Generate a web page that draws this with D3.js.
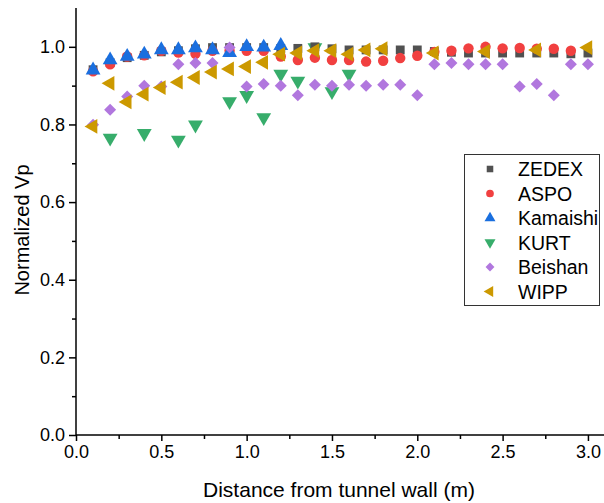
<!DOCTYPE html>
<html><head><meta charset="utf-8">
<script src="https://cdn.jsdelivr.net/npm/d3@7"></script>
<style>body{margin:0;background:#fff}svg{display:block}text{font-family:"Liberation Sans",Arial,sans-serif;fill:#000}</style>
</head><body><svg id="c" width="604" height="503"></svg>
<script>
const xTicks = [0.0, 0.5, 1.0, 1.5, 2.0, 2.5, 3.0];
const yTicks = [0.0, 0.2, 0.4, 0.6, 0.8, 1.0];
const seriesNames = ["ZEDEX", "ASPO", "Kamaishi", "KURT", "Beishan", "WIPP"];

const zedexX = [0.1,0.2,0.3,0.4,0.5,0.6,0.7,0.8,0.9,1.0,1.1,1.2,1.3,1.4,1.5,1.6,1.7,1.8,1.9,2.0,2.1,2.2,2.3,2.4,2.5,2.6,2.7,2.8,2.9,3.0];
const zedexY = [0.941,0.959,0.972,0.978,0.987,0.99,0.995,0.998,0.998,0.998,0.998,0.996,0.996,1.0,0.995,0.992,0.992,0.992,0.992,0.992,0.988,0.986,0.984,0.984,0.984,0.984,0.984,0.984,0.982,0.984];

const aspoX = [0.1,0.2,0.3,0.4,0.5,0.6,0.7,0.8,0.9,1.0,1.1,1.2,1.3,1.4,1.5,1.6,1.7,1.8,1.9,2.0,2.1,2.2,2.3,2.4,2.5,2.6,2.7,2.8,2.9];
const aspoY = [0.937,0.955,0.975,0.978,0.99,0.985,0.982,0.99,0.99,0.99,0.99,0.975,0.966,0.972,0.966,0.966,0.962,0.964,0.971,0.977,0.987,0.99,0.996,1.0,0.996,0.997,0.995,0.995,0.99];

const kamaishiX = [0.1,0.2,0.3,0.4,0.5,0.6,0.7,0.8,0.9,1.0,1.1,1.2];
const kamaishiY = [0.94,0.966,0.975,0.981,0.992,0.992,0.997,0.992,0.985,1.0,0.999,1.003];

const kurtX = [0.2,0.4,0.6,0.7,0.9,1.0,1.1,1.2,1.3,1.4,1.5,1.6];
const kurtY = [0.765,0.777,0.76,0.799,0.859,0.875,0.818,0.93,0.912,0.998,0.885,0.93];

const beishanX = [0.1,0.2,0.3,0.4,0.5,0.6,0.7,0.8,0.9,1.0,1.1,1.2,1.3,1.4,1.5,1.6,1.7,1.8,1.9,2.0,2.1,2.2,2.3,2.4,2.5,2.6,2.7,2.8,2.9,3.0];
const beishanY = [0.799,0.838,0.872,0.9,0.898,0.955,0.958,0.958,0.998,0.898,0.904,0.9,0.875,0.902,0.9,0.902,0.9,0.902,0.902,0.875,0.955,0.958,0.955,0.955,0.955,0.898,0.904,0.875,0.955,0.955];

const wippX = [0.1,0.2,0.3,0.4,0.5,0.6,0.7,0.8,0.9,1.0,1.1,1.2,1.3,1.4,1.5,1.6,1.7,1.8,2.1,2.4,2.7,3.0];
const wippY = [0.795,0.906,0.858,0.878,0.895,0.909,0.921,0.935,0.943,0.949,0.96,0.981,0.984,0.99,0.99,0.981,0.992,0.995,0.984,0.988,0.992,0.998];

const colors = ["#515151", "#F14040", "#1A6FDF", "#37AD6B", "#B177DE", "#CC9900"];

const svg = d3.select("#c");
const x = d3.scaleLinear().domain([0, 3.1]).range([76, 605]);
const y = d3.scaleLinear().domain([0, 1.1]).range([435, 8]);

// axes
const xAxis = d3.axisBottom(x).tickValues(xTicks).tickFormat(d3.format(".1f")).tickSize(6).tickPadding(4);
const gx = svg.append("g").attr("transform", "translate(0,435)").call(xAxis);
gx.selectAll(".tick text").style("font-size", "18px");
const xMinor = d3.axisBottom(x).tickValues([0.25,0.75,1.25,1.75,2.25,2.75]).tickSize(4).tickFormat("");
svg.append("g").attr("transform", "translate(0,435)").call(xMinor).select(".domain").remove();

const yAxis = d3.axisLeft(y).tickValues(yTicks).tickFormat(d3.format(".1f")).tickSize(7).tickPadding(4);
const gy = svg.append("g").attr("transform", "translate(76,0)").call(yAxis);
gy.selectAll(".tick text").style("font-size", "18px");
const yMinor = d3.axisLeft(y).tickValues([0.1,0.3,0.5,0.7,0.9]).tickSize(4).tickFormat("");
svg.append("g").attr("transform", "translate(76,0)").call(yMinor).select(".domain").remove();
svg.selectAll(".domain, .tick line").attr("stroke", "#000").attr("stroke-width", 1.5);
gx.select(".domain").attr("d", `M${x(0)},0H${x(3.1)}`);
gy.select(".domain").attr("d", `M0,${y(0)}V${y(1.1)}`);

svg.append("text").attr("x", 339).attr("y", 497).attr("text-anchor", "middle").style("font-size", "21px").text("Distance from tunnel wall (m)");
svg.append("text").attr("transform", "translate(29,230) rotate(-90)").attr("text-anchor", "middle").style("font-size", "20px").text("Normalized Vp");

// symbols
const types = [d3.symbolSquare, d3.symbolCircle, d3.symbolTriangle, d3.symbolTriangle, d3.symbolSquare, d3.symbolTriangle];
const sizes = [78, 85, 95, 95, 72, 95];
const rot = [0, 0, 0, 180, 45, -90];
const sets = [[zedexX, zedexY],[aspoX, aspoY],[kamaishiX, kamaishiY],[kurtX, kurtY],[beishanX, beishanY],[wippX, wippY]];
const order = [3, 0, 1, 2, 4, 5];
order.forEach(i => {
  const [xs, ys] = sets[i];
  svg.append("g").selectAll("path").data(xs.map((v, k) => [v, ys[k]])).join("path")
    .attr("d", d3.symbol().type(types[i]).size(sizes[i])())
    .attr("transform", d => `translate(${x(d[0])},${y(d[1])}) rotate(${rot[i]})`)
    .attr("fill", colors[i]);
});

// legend
const lg = svg.append("g");
lg.append("rect").attr("x", 464.5).attr("y", 154.5).attr("width", 135).attr("height", 151).attr("fill", "#fff").attr("stroke", "#333").attr("stroke-width", 1);
seriesNames.forEach((n, i) => {
  const cy = 169 + i * 24.5;
  lg.append("path").attr("d", d3.symbol().type(types[i]).size(sizes[i] * 0.55)())
    .attr("transform", `translate(490,${cy}) rotate(${rot[i]})`).attr("fill", colors[i]);
  lg.append("text").attr("x", 518).attr("y", cy + 7).style("font-size", "19.5px").text(n);
});
</script></body></html>
